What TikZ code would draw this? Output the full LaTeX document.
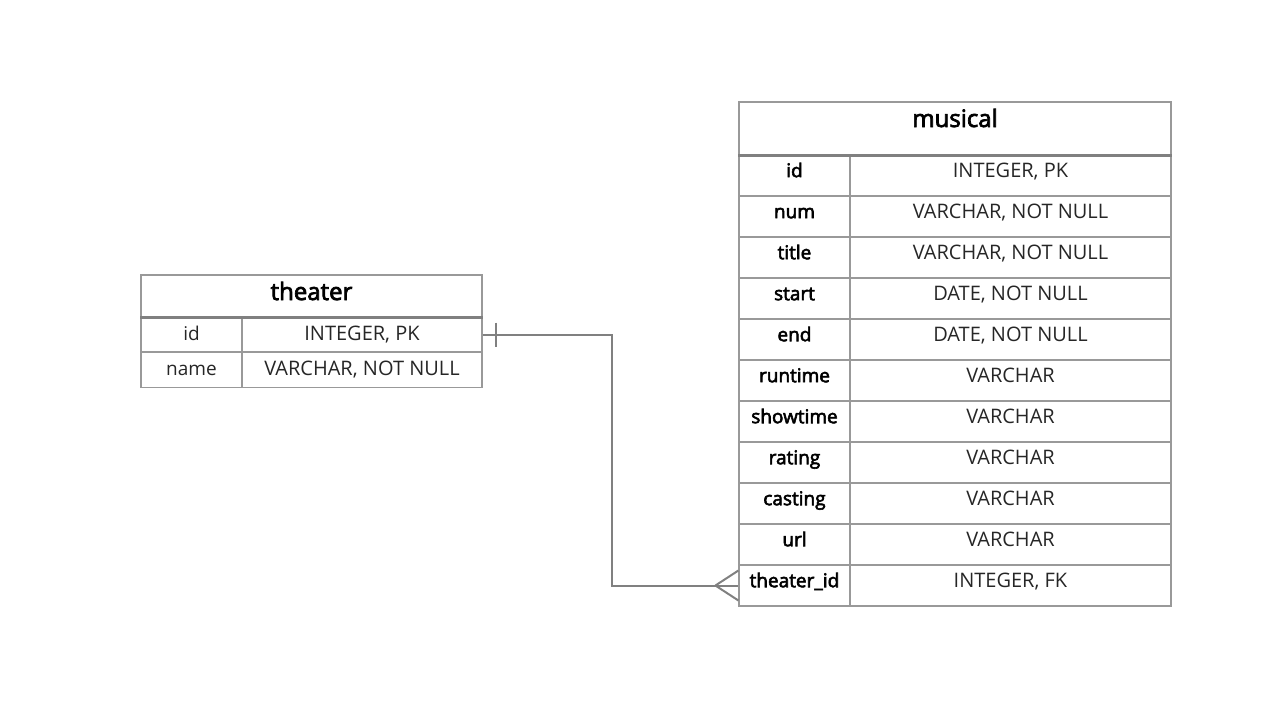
\documentclass[tikz,border=0pt]{standalone}
\usepackage{fontspec}
\setmainfont{Open Sans}
\newfontfamily\semibold{Open Sans}[FakeBold=3]
\usepackage{tikz}
\usetikzlibrary{arrows.meta}

\tikzset{
    cell/.style = {draw=black!40, line width=0.6pt, inner sep=0pt, text height=7.5pt, text=black!85, font={\fontsize{10}{12}\selectfont}},
    title/.style = {cell, text=black, text height=9pt, font={\fontsize{12}{14}\selectfont\semibold}},
    conn/.style = {draw=black!50, line width=1pt},
    sep/.style = {draw=black!50, line width=1.6pt}
}

\begin{document}
\begin{tikzpicture}[x=0.5pt, y=-0.5pt]
        \useasboundingbox (0,0) rectangle (1280,720);

        % theater table
        \node[title, text depth=5pt, minimum width=170.5pt, minimum height=21pt] (theater) at (311.5, 296) {theater};
        \tikzset{tkey/.style = {cell, text depth=1.8pt, minimum width=50.5pt, minimum height=17.5pt, font={\fontsize{9.5}{11}\selectfont}},
                 ttype/.style = {cell, text depth=1.8pt, minimum width=120pt, minimum height=17.5pt}}
        \node[tkey] (tid key) at (191.5, 334.5) {id};
        \node[ttype] (tid type) at (362, 334.5) {INTEGER, PK};
        \node[tkey] (tname key) at (191.5, 370) {name};
        \node[ttype] (tname type) at (362, 370) {VARCHAR, NOT NULL};
        \draw[sep] (theater.south west) -- (theater.south east);

        % musical table
        \node[title, text depth=10.5pt, minimum width=216pt, minimum height=26.5pt] (musical) at (955, 128.5) {musical};
        \tikzset{mkey/.style = {cell, text=black, text depth=5.8pt, minimum width=55.5pt, minimum height=20.5pt, font={\fontsize{9.5}{11}\selectfont\semibold}},
                 mtype/.style = {cell, text depth=5.8pt, minimum width=160.5pt, minimum height=20.5pt}}
        \node[mkey] (mid key) at (794.5, 175.5) {id};
        \node[mtype] (mid type) at (1010.5, 175.5) {INTEGER, PK};
        \node[mkey] (mnum key) at (794.5, 216.5) {num};
        \node[mtype] (mnum type) at (1010.5, 216.5) {VARCHAR, NOT NULL};
        \node[mkey] (mtitle key) at (794.5, 257.5) {title};
        \node[mtype] (mtitle type) at (1010.5, 257.5) {VARCHAR, NOT NULL};
        \node[mkey] (mstart key) at (794.5, 298.5) {start};
        \node[mtype] (mstart type) at (1010.5, 298.5) {DATE, NOT NULL};
        \node[mkey] (mend key) at (794.5, 339.5) {end};
        \node[mtype] (mend type) at (1010.5, 339.5) {DATE, NOT NULL};
        \node[mkey] (mruntime key) at (794.5, 380.5) {runtime};
        \node[mtype] (mruntime type) at (1010.5, 380.5) {VARCHAR};
        \node[mkey] (mshowtime key) at (794.5, 421.5) {showtime};
        \node[mtype] (mshowtime type) at (1010.5, 421.5) {VARCHAR};
        \node[mkey] (mrating key) at (794.5, 462.5) {rating};
        \node[mtype] (mrating type) at (1010.5, 462.5) {VARCHAR};
        \node[mkey] (mcasting key) at (794.5, 503.5) {casting};
        \node[mtype] (mcasting type) at (1010.5, 503.5) {VARCHAR};
        \node[mkey] (murl key) at (794.5, 544.5) {url};
        \node[mtype] (murl type) at (1010.5, 544.5) {VARCHAR};
        \node[mkey] (mtid key) at (794.5, 585.5) {theater\_id};
        \node[mtype] (mtid type) at (1010.5, 585.5) {INTEGER, FK};
        \draw[sep] (musical.south west) -- (musical.south east);

        % relation: one theater, many musicals
        \draw[conn] (tid type.east) -- ++(129,0) |- (mtid key.west);
        \draw[conn] (tid type.east) ++(13,-12) -- ++(0,24);
        \draw[conn] (mtid key.west) ++(-23,0) -- ++(23,-15);
        \draw[conn] (mtid key.west) ++(-23,0) -- ++(23,15);
    \end{tikzpicture}
\end{document}
